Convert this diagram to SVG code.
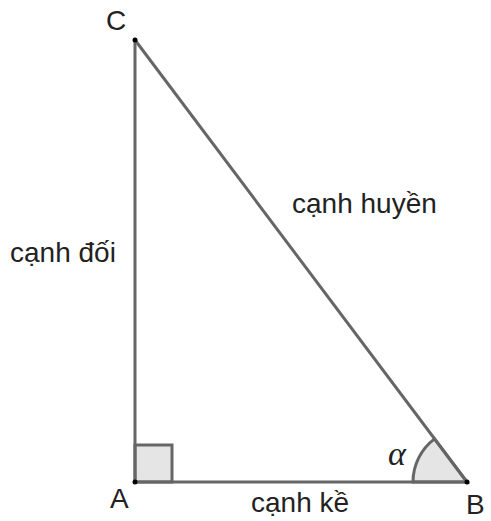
<svg xmlns="http://www.w3.org/2000/svg" width="491" height="521" viewBox="0 0 491 521">
<style>
.edge{stroke:#666;stroke-width:3;fill:none;stroke-linecap:round}
.mark{stroke:#666;stroke-width:3;fill:#e5e5e5}
.lbl{font-family:"Liberation Sans",Arial,sans-serif;font-size:28px;fill:#222}
.pt{fill:#000}
</style>
<rect width="491" height="521" fill="#fff"/>
<g id="marks">
<rect class="mark" x="135" y="445" width="37" height="37"/>
<path class="mark" d="M413,482 A54,54 0 0 1 434.5,438.9 L467,482 Z"/>
</g>
<g id="connectors">
<line class="edge" x1="135" y1="40" x2="135" y2="482"/>
<line class="edge" x1="135" y1="482" x2="467" y2="482"/>
<line class="edge" x1="135" y1="40" x2="467" y2="482"/>
</g>
<g id="A"><circle class="pt" cx="135" cy="482" r="2.5"/><text class="lbl" x="110" y="508">A</text></g>
<g id="B"><circle class="pt" cx="467" cy="482" r="2.5"/><text class="lbl" x="466" y="514">B</text></g>
<g id="C"><circle class="pt" cx="135" cy="40" r="2.5"/><text class="lbl" x="106" y="30">C</text></g>
<text class="lbl" x="10" y="262">cạnh đối</text>
<text class="lbl" x="292" y="213">cạnh huyền</text>
<text class="lbl" x="251" y="512">cạnh kề</text>
<text x="388" y="465" style="font-family:'Liberation Serif',serif;font-style:italic;font-size:34px;fill:#222">α</text>
</svg>
